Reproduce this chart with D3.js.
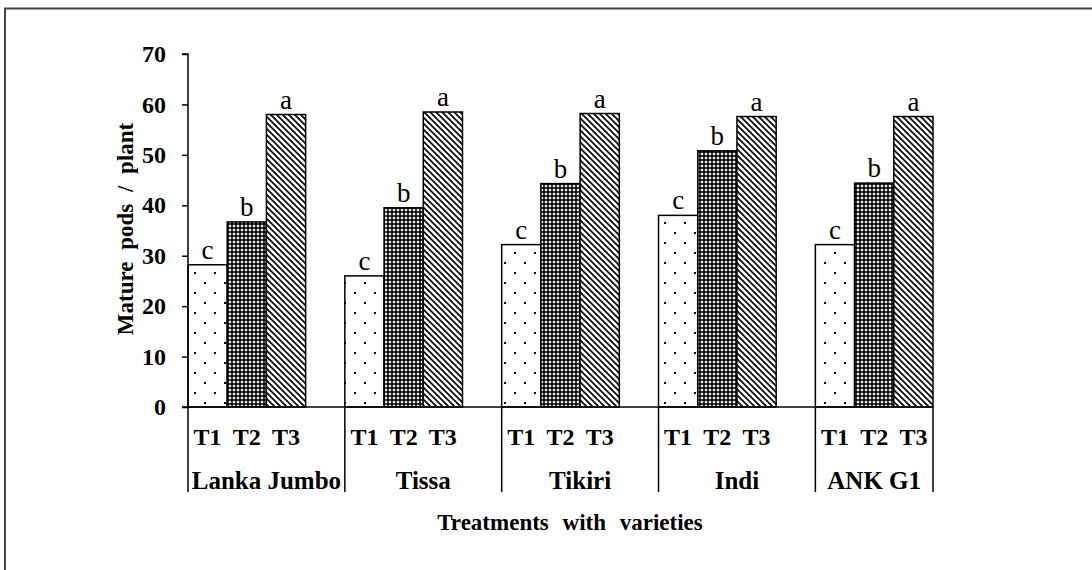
<!DOCTYPE html>
<meta charset="utf-8">
<html lang="en">
<head>
    <meta charset="utf-8">
    <style>
        body { margin: 0; background: #fff; }
        svg { display: block; }
        text { font-family: "Liberation Serif", "Times New Roman", serif; fill: #000; }
    </style>
</head>
<body>
    <div id="my_dataviz"></div>
    <script src="https://d3js.org/d3.v7.min.js"></script>
    <script>
        // data
        var varieties = ["Lanka Jumbo", "Tissa", "Tikiri", "Indi", "ANK G1"];
        var treatments = ["T1", "T2", "T3"];
        var t1Values = [28.2, 26.0, 32.2, 38.0, 32.2];
        var t2Values = [36.7, 39.5, 44.3, 50.8, 44.4];
        var t3Values = [58.0, 58.5, 58.2, 57.6, 57.6];
        var letters = ["c", "b", "a"];
        var yTicks = [0, 10, 20, 30, 40, 50, 60, 70];

        var W = 1092, H = 570;
        var svg = d3.select("#my_dataviz").append("svg")
            .attr("width", W).attr("height", H);

        // outer frame (left and top only)
        svg.append("path")
            .attr("d", "M5,570 L5,8.5 L1092,8.5")
            .attr("fill", "none").attr("stroke", "#444").attr("stroke-width", 2);

        // patterns
        var defs = svg.append("defs");
        var p1 = defs.append("pattern").attr("id", "pT1").attr("patternUnits", "userSpaceOnUse")
            .attr("width", 20).attr("height", 20).attr("x", 4).attr("y", 2);
        p1.append("rect").attr("width", 20).attr("height", 20).attr("fill", "#fff");
        p1.append("rect").attr("x", 0).attr("y", 0).attr("width", 2).attr("height", 2).attr("fill", "#000");
        p1.append("rect").attr("x", 10).attr("y", 10).attr("width", 2).attr("height", 2).attr("fill", "#000");

        // small white crosses on black
        var p2 = defs.append("pattern").attr("id", "pT2").attr("patternUnits", "userSpaceOnUse")
            .attr("width", 4).attr("height", 4);
        p2.append("rect").attr("width", 4).attr("height", 4).attr("fill", "#000");
        p2.append("rect").attr("x", 1.5).attr("y", 0.5).attr("width", 1).attr("height", 3).attr("fill", "#fff");
        p2.append("rect").attr("x", 0.5).attr("y", 1.5).attr("width", 3).attr("height", 1).attr("fill", "#fff");
        p2.append("rect").attr("x", 1).attr("y", 1).attr("width", 2).attr("height", 2).attr("fill", "#fff").attr("opacity", 0.6);

        var p3 = defs.append("pattern").attr("id", "pT3").attr("patternUnits", "userSpaceOnUse")
            .attr("width", 6).attr("height", 6);
        p3.append("rect").attr("width", 6).attr("height", 6).attr("fill", "#fff");
        p3.append("path").attr("d", "M-1,-1 L7,7 M-1,5 L1,7 M5,-1 L7,1")
            .attr("stroke", "#000").attr("stroke-width", 1.6);

        var fills = ["url(#pT1)", "url(#pT2)", "url(#pT3)"];

        // slots: 3 bars per variety + 1 empty slot between varieties
        var slots = [];
        varieties.forEach(function (v, i) {
            treatments.forEach(function (t) { slots.push(v + "|" + t); });
            if (i < varieties.length - 1) slots.push(v + "|gap");
        });

        var x0 = 188, x1 = 933, yBase = 407, yTop = 54;
        var x = d3.scaleBand().domain(slots).range([x0, x1]).padding(0);
        var y = d3.scaleLinear().domain([0, 70]).range([yBase, yTop]);

        var data = [];
        varieties.forEach(function (v, i) {
            var vals = [t1Values[i], t2Values[i], t3Values[i]];
            treatments.forEach(function (t, j) {
                data.push({ variety: v, treat: t, idx: j, value: vals[j] });
            });
        });

        // bars
        svg.selectAll("rect.bar").data(data).enter().append("rect")
            .attr("class", "bar")
            .attr("x", function (d) { return x(d.variety + "|" + d.treat); })
            .attr("y", function (d) { return y(d.value); })
            .attr("width", x.bandwidth())
            .attr("height", function (d) { return yBase - y(d.value); })
            .attr("fill", function (d) { return fills[d.idx]; })
            .attr("stroke", "#000").attr("stroke-width", 1.5);

        // significance letters
        svg.selectAll("text.letter").data(data).enter().append("text")
            .attr("class", "letter")
            .attr("x", function (d) { return x(d.variety + "|" + d.treat) + x.bandwidth() / 2; })
            .attr("y", function (d) { return y(d.value) - 6; })
            .attr("text-anchor", "middle")
            .style("font-size", "27px")
            .text(function (d) { return letters[d.idx]; });

        // y axis
        var yAxis = svg.append("g")
            .attr("transform", "translate(" + x0 + ",0)")
            .call(d3.axisLeft(y).tickValues(yTicks).tickSize(6).tickPadding(16).tickFormat(d3.format("d")));
        yAxis.select(".domain").attr("stroke", "#000").attr("stroke-width", 1.5).attr("d", "M-6," + yTop + "H0V" + yBase);
        yAxis.selectAll(".tick line").attr("stroke", "#000").attr("stroke-width", 1.5);
        yAxis.selectAll(".tick text")
            .style("font-family", "'Liberation Serif', serif")
            .style("font-size", "24px").style("font-weight", "bold").attr("fill", "#000");

        // x axis line
        svg.append("line")
            .attr("x1", x0 - 6).attr("x2", x1).attr("y1", yBase).attr("y2", yBase)
            .attr("stroke", "#000").attr("stroke-width", 1.5);

        // treatment labels
        svg.selectAll("text.treat").data(data).enter().append("text")
            .attr("class", "treat")
            .attr("x", function (d) { return x(d.variety + "|" + d.treat) + x.bandwidth() / 2; })
            .attr("y", 445)
            .attr("text-anchor", "middle")
            .style("font-size", "24px").style("font-weight", "bold")
            .text(function (d) { return d.treat; });

        // group separators
        var seps = varieties.map(function (v) { return x(v + "|T1"); }).concat([x1]);
        svg.selectAll("line.sep").data(seps).enter().append("line")
            .attr("class", "sep")
            .attr("x1", function (d) { return d; }).attr("x2", function (d) { return d; })
            .attr("y1", yBase).attr("y2", 492)
            .attr("stroke", "#000").attr("stroke-width", 1.5);

        // variety labels
        svg.selectAll("text.variety").data(varieties).enter().append("text")
            .attr("class", "variety")
            .attr("x", function (d, i) { return (seps[i] + seps[i + 1]) / 2; })
            .attr("y", 489)
            .attr("text-anchor", "middle")
            .style("font-size", "25px").style("font-weight", "bold")
            .text(function (d) { return d; });

        // axis titles
        svg.append("text")
            .attr("x", 570).attr("y", 530)
            .attr("text-anchor", "middle")
            .style("font-size", "23px").style("font-weight", "bold").style("word-spacing", "8px")
            .text("Treatments with varieties");

        svg.append("text")
            .attr("transform", "translate(133,229) rotate(-90)")
            .attr("text-anchor", "middle")
            .style("font-size", "23px").style("font-weight", "bold").style("word-spacing", "6px")
            .text("Mature pods / plant");
    </script>
</body>
</html>
